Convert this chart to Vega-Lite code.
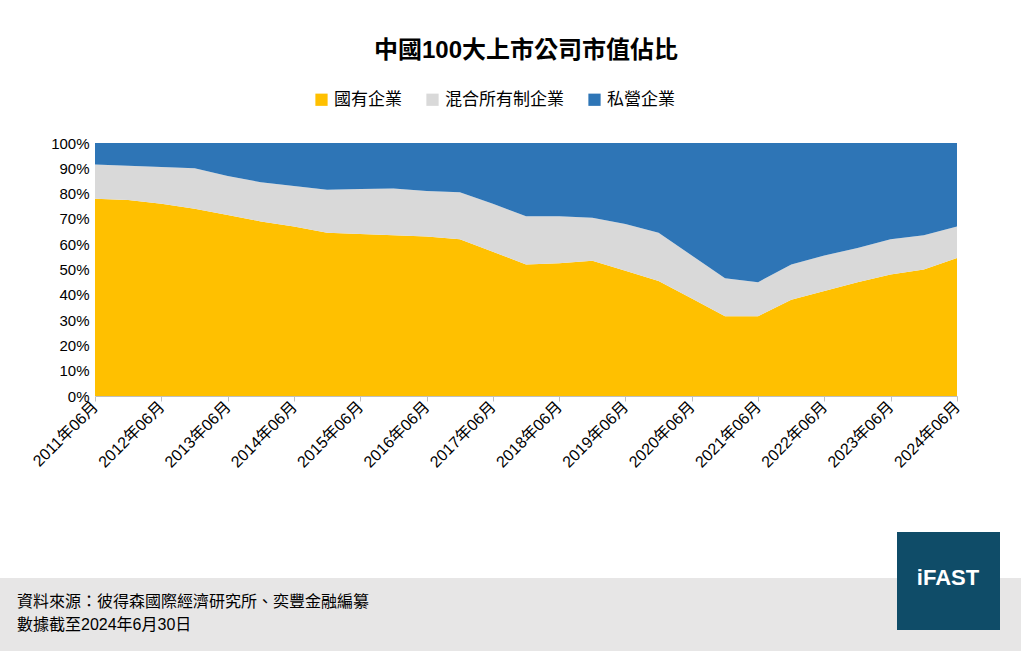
{
  "$schema": "https://vega.github.io/schema/vega-lite/v6.json",
  "width": 862,
  "height": 253,
  "autosize": {"type": "none"},
  "padding": {"left": 95, "top": 143, "right": 64, "bottom": 255},
  "background": "white",
  "title": {
    "text": "中國100大上市公司市值佔比",
    "fontSize": 24,
    "fontWeight": "bold",
    "anchor": "middle",
    "frame": "group",
    "offset": 28,
    "color": "black"
  },
  "datasets": {
    "share": [
      {"date": "2011-06-01", "state": 78, "mixed": 13.5, "private": 8.5},
      {"date": "2011-12-01", "state": 77.5, "mixed": 13.5, "private": 9},
      {"date": "2012-06-01", "state": 76, "mixed": 14.5, "private": 9.5},
      {"date": "2012-12-01", "state": 74, "mixed": 16, "private": 10},
      {"date": "2013-06-01", "state": 71.5, "mixed": 15.5, "private": 13},
      {"date": "2013-12-01", "state": 69, "mixed": 15.5, "private": 15.5},
      {"date": "2014-06-01", "state": 67, "mixed": 16, "private": 17},
      {"date": "2014-12-01", "state": 64.5, "mixed": 17, "private": 18.5},
      {"date": "2015-06-01", "state": 64, "mixed": 17.8, "private": 18.2},
      {"date": "2015-12-01", "state": 63.5, "mixed": 18.5, "private": 18},
      {"date": "2016-06-01", "state": 63, "mixed": 18, "private": 19},
      {"date": "2016-12-01", "state": 62, "mixed": 18.5, "private": 19.5},
      {"date": "2017-06-01", "state": 57, "mixed": 19, "private": 24},
      {"date": "2017-12-01", "state": 52, "mixed": 19, "private": 29},
      {"date": "2018-06-01", "state": 52.5, "mixed": 18.5, "private": 29},
      {"date": "2018-12-01", "state": 53.5, "mixed": 17, "private": 29.5},
      {"date": "2019-06-01", "state": 49.5, "mixed": 18.5, "private": 32},
      {"date": "2019-12-01", "state": 45.5, "mixed": 19, "private": 35.5},
      {"date": "2020-06-01", "state": 38.5, "mixed": 17, "private": 44.5},
      {"date": "2020-12-01", "state": 31.5, "mixed": 15, "private": 53.5},
      {"date": "2021-06-01", "state": 31.5, "mixed": 13.5, "private": 55},
      {"date": "2021-12-01", "state": 38, "mixed": 14, "private": 48},
      {"date": "2022-06-01", "state": 41.5, "mixed": 14, "private": 44.5},
      {"date": "2022-12-01", "state": 45, "mixed": 13.5, "private": 41.5},
      {"date": "2023-06-01", "state": 48, "mixed": 14, "private": 38},
      {"date": "2023-12-01", "state": 50, "mixed": 13.5, "private": 36.5},
      {"date": "2024-06-01", "state": 54.5, "mixed": 12.5, "private": 33}
    ]
  },
  "layer": [
    {
      "data": {"values": [{}]},
      "mark": {"type": "rect", "color": "#e7e6e6"},
      "encoding": {
        "x": {"value": -95}, "x2": {"value": 926},
        "y": {"value": 435}, "y2": {"value": 508}
      }
    },
    {
      "data": {"values": [{}]},
      "mark": {"type": "rect", "color": "#0f4c68"},
      "encoding": {
        "x": {"value": 802}, "x2": {"value": 905},
        "y": {"value": 389}, "y2": {"value": 487}
      }
    },
    {
      "data": {"values": [{"t": "iFAST"}]},
      "mark": {"type": "text", "color": "white", "fontSize": 22, "fontWeight": "bold", "align": "center", "baseline": "middle", "font": "Liberation Sans"},
      "encoding": {"x": {"value": 853}, "y": {"value": 435}, "text": {"field": "t"}}
    },
    {
      "data": {"values": [{}]},
      "mark": {"type": "text", "color": "black", "fontSize": 16, "fontWeight": "normal", "align": "left", "baseline": "middle", "lineHeight": 23},
      "encoding": {
        "x": {"value": -78},
        "y": {"value": 459},
        "text": {"value": ["資料來源：彼得森國際經濟研究所、奕豐金融編纂", "數據截至2024年6月30日"]}
      }
    },
    {
      "data": {"name": "share"},
      "transform": [
        {"fold": ["state", "mixed", "private"], "as": ["key", "pct"]},
        {"calculate": "datum.key === 'state' ? '國有企業' : datum.key === 'mixed' ? '混合所有制企業' : '私營企業'", "as": "type"},
        {"calculate": "datum.key === 'state' ? 0 : datum.key === 'mixed' ? 1 : 2", "as": "ord"}
      ],
      "mark": {"type": "area", "interpolate": "linear"},
      "encoding": {
        "x": {
          "field": "date", "type": "temporal", "title": null,
          "scale": {"domain": [{"year": 2011, "month": 6, "date": 1}, {"year": 2024, "month": 6, "date": 1}], "nice": false, "padding": 0},
          "axis": {
            "values": [
              {"year": 2011, "month": 6, "date": 1}, {"year": 2012, "month": 6, "date": 1},
              {"year": 2013, "month": 6, "date": 1}, {"year": 2014, "month": 6, "date": 1},
              {"year": 2015, "month": 6, "date": 1}, {"year": 2016, "month": 6, "date": 1},
              {"year": 2017, "month": 6, "date": 1}, {"year": 2018, "month": 6, "date": 1},
              {"year": 2019, "month": 6, "date": 1}, {"year": 2020, "month": 6, "date": 1},
              {"year": 2021, "month": 6, "date": 1}, {"year": 2022, "month": 6, "date": 1},
              {"year": 2023, "month": 6, "date": 1}, {"year": 2024, "month": 6, "date": 1}
            ],
            "format": "%Y年%m月",
            "labelAngle": -45,
            "labelAlign": "right",
            "labelBaseline": "middle",
            "labelFontSize": 16,
            "labelColor": "black",
            "labelOverlap": false,
            "labelBound": false,
            "domainColor": "#bfbfbf",
            "tickColor": "#bfbfbf",
            "tickSize": 5,
            "labelPadding": 3,
            "grid": false
          }
        },
        "y": {
          "field": "pct", "type": "quantitative", "stack": "normalize", "title": null,
          "axis": {"format": ".0%", "values": [0, 0.1, 0.2, 0.3, 0.4, 0.5, 0.6, 0.7, 0.8, 0.9, 1], "labelFontSize": 15, "labelColor": "black", "domain": false, "ticks": false, "grid": false, "labelPadding": 6}
        },
        "color": {
          "field": "type", "type": "nominal",
          "scale": {"domain": ["國有企業", "混合所有制企業", "私營企業"], "range": ["#ffc000", "#d9d9d9", "#2e75b6"]},
          "legend": {"title": null, "orient": "none", "direction": "horizontal", "legendX": 218, "legendY": -52, "labelFontSize": 17, "labelColor": "black", "symbolType": "square", "symbolSize": 150, "columnPadding": 22, "labelLimit": 300}
        },
        "order": {"field": "ord", "type": "quantitative"}
      }
    }
  ],
  "config": {
    "font": "Liberation Sans, Noto Sans CJK TC",
    "view": {"stroke": null}
  }
}
